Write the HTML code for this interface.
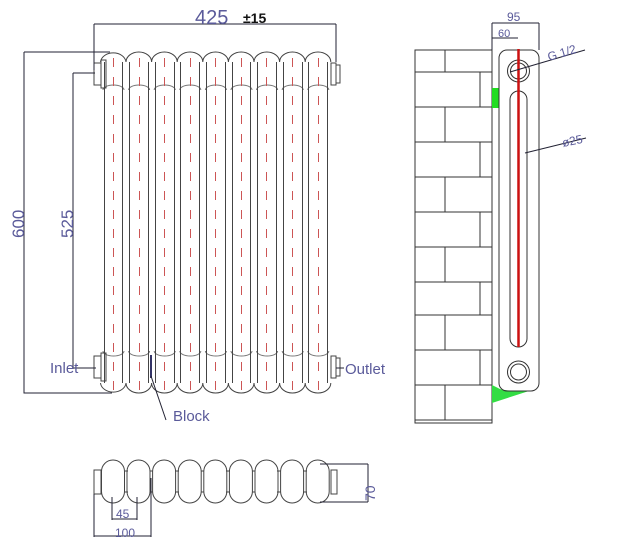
<!DOCTYPE html>
<html><head><meta charset="utf-8"><style>html,body{margin:0;padding:0;background:#fff}svg{display:block}</style></head>
<body>
<svg width="643" height="547" viewBox="0 0 643 547" xmlns="http://www.w3.org/2000/svg" font-family="Liberation Sans, sans-serif">
<g fill="none" stroke="#444" stroke-width="1">
<path d="M100.5 62 A12.8 10 0 0 1 126 62 A12.8 10 0 0 1 151.6 62 A12.8 10 0 0 1 177.2 62 A12.8 10 0 0 1 202.8 62 A12.8 10 0 0 1 228.4 62 A12.8 10 0 0 1 254 62 A12.8 10 0 0 1 279.6 62 A12.8 10 0 0 1 305.2 62 A12.8 10 0 0 1 330.8 62"/>
<path d="M103 90 A10.5 5 0 0 1 124 90 M128.6 90 A10.5 5 0 0 1 149.6 90 M154.2 90 A10.5 5 0 0 1 175.2 90 M179.8 90 A10.5 5 0 0 1 200.8 90 M205.4 90 A10.5 5 0 0 1 226.4 90 M231 90 A10.5 5 0 0 1 252 90 M256.6 90 A10.5 5 0 0 1 277.6 90 M282.2 90 A10.5 5 0 0 1 303.2 90 M307.8 90 A10.5 5 0 0 1 328.8 90" stroke="#777"/>
<path d="M103 351 A10.5 5 0 0 0 124 351 M128.6 351 A10.5 5 0 0 0 149.6 351 M154.2 351 A10.5 5 0 0 0 175.2 351 M179.8 351 A10.5 5 0 0 0 200.8 351 M205.4 351 A10.5 5 0 0 0 226.4 351 M231 351 A10.5 5 0 0 0 252 351 M256.6 351 A10.5 5 0 0 0 277.6 351 M282.2 351 A10.5 5 0 0 0 303.2 351 M307.8 351 A10.5 5 0 0 0 328.8 351" stroke="#777"/>
<path d="M100.5 383 A12.8 10 0 0 0 126 383 A12.8 10 0 0 0 151.6 383 A12.8 10 0 0 0 177.2 383 A12.8 10 0 0 0 202.8 383 A12.8 10 0 0 0 228.4 383 A12.8 10 0 0 0 254 383 A12.8 10 0 0 0 279.6 383 A12.8 10 0 0 0 305.2 383 A12.8 10 0 0 0 330.8 383"/>
<path d="M104.5 62V383M122.5 62V383M129.5 62V383M148.5 62V383M155.5 62V383M174.5 62V383M180.5 62V383M199.5 62V383M206.5 62V383M225.5 62V383M232.5 62V383M250.5 62V383M257.5 62V383M276.5 62V383M283.5 62V383M302.5 62V383M308.5 62V383M327.5 62V383"/>
<rect x="94" y="63" width="7" height="22"/><rect x="101" y="60" width="5" height="28"/>
<rect x="94" y="356" width="7" height="22"/><rect x="101" y="353" width="5" height="28"/>
<rect x="331" y="63" width="5" height="22"/><rect x="336" y="65" width="4" height="18"/>
<rect x="331" y="356" width="5" height="22"/><rect x="336" y="358" width="4" height="18"/>
</g>
<g stroke="#c55" stroke-width="1" stroke-dasharray="9,10">
<path d="M113.5 58V390M139.5 58V390M164.5 58V390M190.5 58V390M215.5 58V390M241.5 58V390M266.5 58V390M292.5 58V390M318.5 58V390"/>
</g>
<path d="M151 355V378" stroke="#336" stroke-width="2"/>
<g stroke="#223" stroke-width="1" fill="none">
<path d="M94 24H336M94 24V70M336 24V62"/>
<path d="M24 52H110M24 52V393H112"/>
<path d="M73 73H95M73 73V368H95"/>
<path d="M151 376L166 420"/>
<path d="M88 368H96M336 368H344"/>
</g>
<text x="195" y="24" font-size="20" fill="#5a5a9a">425</text>
<text x="243" y="23" font-size="14" font-weight="bold" fill="#111">±15</text>
<text transform="translate(24,238) rotate(-90)" font-size="17" fill="#5a5a9a">600</text>
<text transform="translate(73,238) rotate(-90)" font-size="17" fill="#5a5a9a">525</text>
<text x="50" y="373" font-size="15" fill="#5a5a9a">Inlet</text>
<text x="345" y="374" font-size="15" fill="#5a5a9a">Outlet</text>
<text x="173" y="421" font-size="15" fill="#5a5a9a">Block</text>
<g fill="none" stroke="#444">
<rect x="101.5" y="460" width="23" height="43" rx="11.5"/>
<rect x="127" y="460" width="23" height="43" rx="11.5"/>
<rect x="152.6" y="460" width="23" height="43" rx="11.5"/>
<rect x="178.2" y="460" width="23" height="43" rx="11.5"/>
<rect x="203.8" y="460" width="23" height="43" rx="11.5"/>
<rect x="229.4" y="460" width="23" height="43" rx="11.5"/>
<rect x="255" y="460" width="23" height="43" rx="11.5"/>
<rect x="280.6" y="460" width="23" height="43" rx="11.5"/>
<rect x="306.2" y="460" width="23" height="43" rx="11.5"/>
<rect x="94" y="470" width="7" height="24"/><rect x="331" y="470" width="6" height="24"/>
<path d="M124 471H128M124 492H128M150 471H153M150 492H153M175 471H179M175 492H179M201 471H204M201 492H204M226 471H230M226 492H230M252 471H255M252 492H255M277 471H281M277 492H281M303 471H307M303 492H307"/>
</g>
<g stroke="#223" fill="none">
<path d="M320 464H368M320 502H368M368 464V502"/>
<path d="M112 497V520M137 497V520M112 519H137"/>
<path d="M94 494V537M151 478V537M94 536H151"/>
</g>
<text transform="translate(375,501) rotate(-90)" font-size="14" fill="#5a5a9a">70</text>
<text x="116" y="518" font-size="12" fill="#5a5a9a">45</text>
<text x="115" y="537" font-size="12" fill="#5a5a9a">100</text>
<g fill="none" stroke="#333">
<path d="M415 50H492V423H415Z"/>
<path d="M415 72H492M415 107H492M415 142H492M415 177H492M415 212H492M415 247H492M415 282H492M415 315H492M415 350H492M415 385H492M415 420H492"/>
<path d="M445 50V72M480 72V107M445 107V142M480 142V177M445 177V212M480 212V247M445 247V282M480 282V315M445 315V350M480 350V385M445 385V420"/>
</g>
<rect x="492" y="88" width="7" height="20" fill="#22dd22"/>
<path d="M492 385L500 389Q505 391 529 391L492 403Z" fill="#33dd44"/>
<g fill="none" stroke="#333">
<rect x="499" y="50" width="40" height="341" rx="8"/>
<rect x="510" y="91" width="17" height="256" rx="8.5"/>
<circle cx="518.5" cy="71" r="11"/><circle cx="518.5" cy="71" r="8"/>
<circle cx="518.5" cy="372" r="11"/><circle cx="518.5" cy="372" r="8"/>
</g>
<path d="M518.5 49V347" stroke="#cc1111" stroke-width="2.5"/>
<g stroke="#223" fill="none">
<path d="M492 23H539M492 23V50M539 23V50"/>
<path d="M492 38H518M492 38V50"/>
<path d="M510 72L585 50"/>
<path d="M525 153L586 138"/>
</g>
<text x="507" y="21" font-size="12" fill="#5a5a9a">95</text>
<text x="498" y="37" font-size="11" fill="#5a5a9a">60</text>
<text transform="translate(549,61) rotate(-17)" font-size="12" fill="#5a5a9a">G 1/2</text>
<text transform="translate(563,147) rotate(-12)" font-size="12" fill="#5a5a9a">ø25</text>
</svg>
</body></html>
